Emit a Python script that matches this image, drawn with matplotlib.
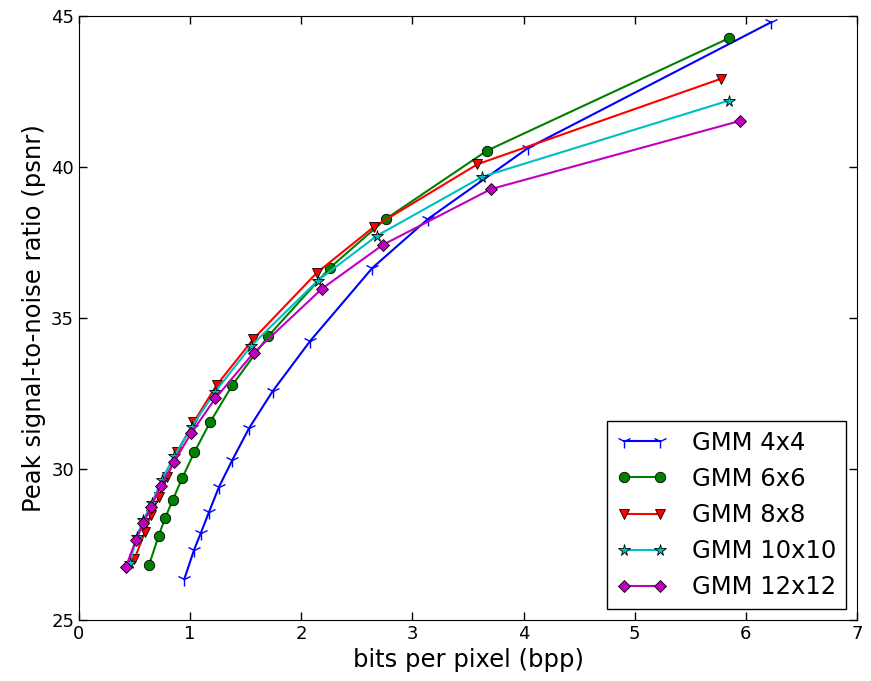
import matplotlib
matplotlib.use("Agg")
import matplotlib.pyplot as plt

# --- data (bpp, psnr) ---
bpp_4 = [0.947, 1.035, 1.095, 1.17, 1.26, 1.38, 1.53, 1.743, 2.08, 2.64, 3.14, 4.04, 6.23]
psnr_4 = [26.35, 27.32, 27.87, 28.58, 29.41, 30.30, 31.35, 32.58, 34.24, 36.66, 38.28, 40.63, 44.80]

bpp_6 = [0.63, 0.717, 0.774, 0.843, 0.93, 1.037, 1.18, 1.38, 1.70, 2.26, 2.76, 3.67, 5.85]
psnr_6 = [26.82, 27.79, 28.37, 28.97, 29.71, 30.55, 31.55, 32.78, 34.39, 36.67, 38.28, 40.54, 44.27]

bpp_8 = [0.498, 0.594, 0.648, 0.72, 0.795, 0.885, 1.03, 1.239, 1.568, 2.14, 2.654, 3.584, 5.774]
psnr_8 = [27.01, 27.92, 28.48, 29.08, 29.74, 30.57, 31.54, 32.78, 34.30, 36.50, 38.02, 40.09, 42.92]

bpp_10 = [0.459, 0.519, 0.579, 0.654, 0.744, 0.858, 1.014, 1.224, 1.55, 2.148, 2.679, 3.629, 5.846]
psnr_10 = [26.90, 27.76, 28.31, 28.86, 29.64, 30.43, 31.40, 32.55, 34.08, 36.24, 37.72, 39.68, 42.20]

bpp_12 = [0.423, 0.513, 0.579, 0.648, 0.735, 0.852, 1.008, 1.227, 1.572, 2.186, 2.733, 3.707, 5.95]
psnr_12 = [26.77, 27.65, 28.20, 28.75, 29.44, 30.22, 31.18, 32.34, 33.85, 35.97, 37.42, 39.27, 41.53]

labels = ["GMM 4x4", "GMM 6x6", "GMM 8x8", "GMM 10x10", "GMM 12x12"]

plt.rcParams["xtick.direction"] = "in"
plt.rcParams["ytick.direction"] = "in"
plt.rcParams["xtick.top"] = True
plt.rcParams["ytick.right"] = True

fig = plt.figure(figsize=(8.71, 6.81), dpi=100)
ax = fig.add_axes([0.0907, 0.0896, 0.8933, 0.8869])

ax.plot(bpp_4, psnr_4, "b-", marker="1", markersize=10, markeredgewidth=1.0, lw=1.5, label=labels[0])
ax.plot(bpp_6, psnr_6, "-", color="green", marker="o", markersize=7.5, mec="black", mew=0.6, lw=1.5, label=labels[1])
ax.plot(bpp_8, psnr_8, "r-", marker="v", markersize=7.5, mec="black", mew=0.6, lw=1.5, label=labels[2])
ax.plot(bpp_10, psnr_10, "-", color="c", marker="*", markersize=8.5, mec="black", mew=0.6, lw=1.5, label=labels[3])
ax.plot(bpp_12, psnr_12, "-", color="m", marker="D", markersize=6.5, mec="black", mew=0.6, lw=1.5, label=labels[4])

ax.set_xlim(0, 7)
ax.set_ylim(25, 45)
ax.set_yticks([25, 30, 35, 40, 45])
ax.tick_params(labelsize=13, length=6, width=1)
ax.set_xlabel("bits per pixel (bpp)", fontsize=17.5)
ax.set_ylabel("Peak signal-to-noise ratio (psnr)", fontsize=17.5)

leg = ax.legend(loc="lower right", fontsize=17.5, numpoints=2, fancybox=False,
                framealpha=1, edgecolor="black", borderaxespad=0.45,
                labelspacing=0.5, handlelength=2.1, handletextpad=1.0, borderpad=0.4)
leg.get_frame().set_linewidth(1.0)

fig.savefig("out.png", dpi=100)
